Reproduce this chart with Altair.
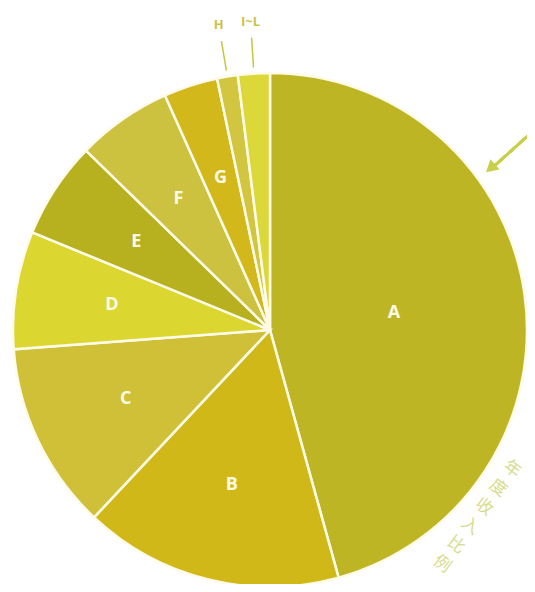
import altair as alt
import pandas as pd

categories = ["A", "B", "C", "D", "E", "F", "G", "H", "I~L"]
values = [45.7, 16.3, 11.8, 7.4, 6.1, 6.0, 3.4, 1.3, 2.0]
colors = ["#bdb523", "#d1b819", "#cfc038", "#dcd631", "#b8b11f", "#cdc240", "#d2b81a", "#d2c540", "#dcd839"]
side_title = list("年度收入比例")

df = pd.DataFrame({"cat": categories, "v": values, "idx": list(range(len(categories)))})
tdf = pd.DataFrame({"ch": side_title, "i": list(range(len(side_title)))})

CX, CY, R = 262, 322, 257

base = alt.Chart(df).encode(
    theta=alt.Theta("v:Q", stack=True),
    order=alt.Order("idx:Q"),
)

arcs = base.mark_arc(radius=R, stroke="#fffbe8", strokeWidth=2.5).encode(
    color=alt.Color("cat:N", scale=alt.Scale(domain=categories, range=colors), legend=None,
                    sort=categories),
    x=alt.value(CX), y=alt.value(CY),
)

def label_layer(cond, radius, color, size):
    return base.transform_calculate(
        lab=f"({cond}) ? datum.cat : ''"
    ).mark_text(radius=radius, font="Open Sans", fontWeight="bold", fontSize=size, color=color).encode(
        text="lab:N", x=alt.value(CX), y=alt.value(CY),
    )

lab_a = label_layer("datum.cat == 'A'", 125, "#fffbe8", 18)
lab_mid = label_layer("datum.cat != 'A' && datum.cat != 'H' && datum.cat != 'I~L'", 160, "#fffbe8", 18)
lab_out = label_layer("datum.cat == 'H' || datum.cat == 'I~L'", 309, "#c9c443", 13)

leaders = alt.Chart(df).transform_window(
    cum="sum(v)", sort=[alt.SortField("idx")], frame=[None, 0]
).transform_joinaggregate(total="sum(v)").transform_calculate(
    ang="(datum.cum - datum.v/2) / datum.total * 2 * PI"
).transform_filter(
    "datum.cat == 'H' || datum.cat == 'I~L'"
).transform_calculate(
    x1=f"{CX} + 263*sin(datum.ang)", y1=f"{CY} - 263*cos(datum.ang)",
    x2=f"{CX} + 293*sin(datum.ang)", y2=f"{CY} - 293*cos(datum.ang)",
).mark_rule(color="#c9c443", strokeWidth=1.5).encode(
    x=alt.X("x1:Q", scale=None, axis=None), y=alt.Y("y1:Q", scale=None, axis=None),
    x2="x2:Q", y2="y2:Q",
)

arrow_line = alt.Chart(df).mark_rule(color="#c8d04a", strokeWidth=2.5).encode(
    x=alt.value(522), y=alt.value(126), x2=alt.value(484), y2=alt.value(160)
)
arrow_head = alt.Chart(df).transform_filter("datum.idx == 0").mark_point(
    shape="triangle", filled=True, color="#c8d04a", size=190, angle=229, opacity=1
).encode(x=alt.value(484), y=alt.value(159))

side = alt.Chart(tdf).transform_calculate(
    px="504 - 14*datum.i", py="461 + 19*datum.i"
).mark_text(font="Noto Sans CJK SC", fontSize=17, color="#d6dc8c", angle=37).encode(
    x=alt.X("px:Q", scale=None, axis=None), y=alt.Y("py:Q", scale=None, axis=None),
    text="ch:N",
)

chart = alt.layer(arcs, lab_a, lab_mid, lab_out, leaders, arrow_line, arrow_head, side).properties(
    width=519, height=576, padding=0,
    autosize=alt.AutoSizeParams(type="none"),
).configure_view(stroke=None)

chart.save("out.html", embed_options={"renderer": "svg", "actions": False})
